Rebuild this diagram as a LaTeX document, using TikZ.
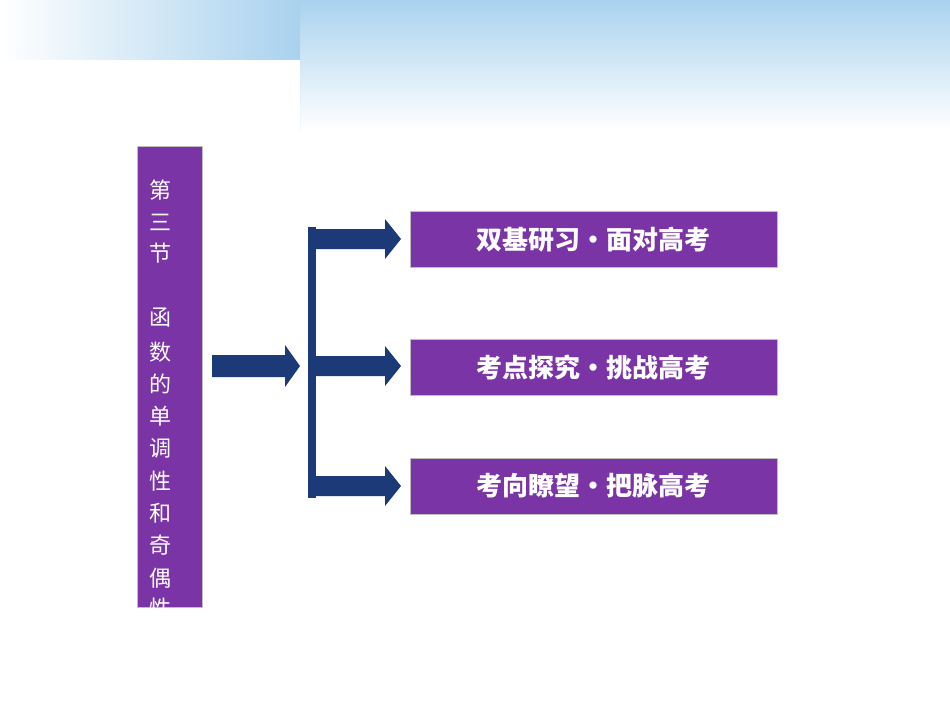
\documentclass[tikz,border=0pt]{standalone}
\usepackage{fontspec}
\newfontfamily\cjk{Noto Sans CJK SC}
\definecolor{pur}{HTML}{7A34A6}
\definecolor{nav}{HTML}{1C3A78}
\definecolor{sky}{HTML}{A9D2EE}
\begin{document}
\begin{tikzpicture}[x=1pt,y=-1pt,
  box/.style={draw=gray!50,fill=pur,line width=0.6pt,minimum width=367pt,minimum height=56pt,text=white,font=\cjk\bfseries\fontsize{26}{26}\selectfont,inner sep=0pt},
  arr/.style={fill=nav},
  ch/.style={text=white,font=\cjk\fontsize{22}{22}\selectfont,inner sep=0pt}]
\useasboundingbox (0,0) rectangle (950,713);
\fill[white] (0,0) rectangle (950,713);
\shade[top color=sky,bottom color=white] (300,0) rectangle (950,130);
\shade[left color=white,right color=sky] (0,0) rectangle (300,130);
\shade[top color=sky!0,bottom color=white] (0,60) rectangle (300,130);
\node[draw=gray!50,fill=pur,minimum width=65pt,minimum height=461pt,anchor=north west,inner sep=0pt] (bar) at (137,146) {};
\foreach \c/\y in {第/190,三/222,节/253,函/318,数/352,的/384,单/416,调/448,性/481,和/513,奇/545,偶/578}
  \node[ch] at (160,\y) {\c};
\begin{scope}
\clip (137,146) rectangle (202,607);
\node[ch] (last) at (160,608) {性};
\end{scope}
\node[box] (b1) at (593.5,239.5) {双基研习•面对高考};
\node[box] (b2) at (593.5,367) {考点探究•挑战高考};
\node[box] (b3) at (593.5,486) {考向瞭望•把脉高考};
\fill[arr] (212,355) -- (285,355) -- (285,345) -- (300,366) -- (285,387) -- (285,377) -- (212,377) -- cycle;
\fill[arr] (308,227) rectangle (316,498);
\foreach \y in {239,366,486}
  \fill[arr] (316,\y-10) -- (385,\y-10) -- (385,\y-20) -- (401,\y) -- (385,\y+20) -- (385,\y+10) -- (316,\y+10) -- cycle;
\end{tikzpicture}
\end{document}
